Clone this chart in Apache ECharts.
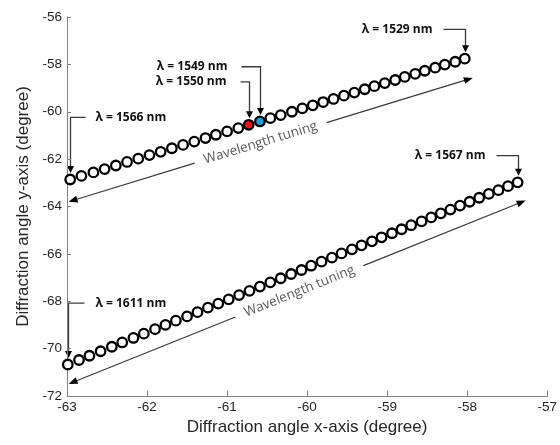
<!DOCTYPE html>
<html>
<head>
<meta charset="utf-8">
<script src="https://cdn.jsdelivr.net/npm/echarts@6/dist/echarts.min.js"></script>
<style>
  html, body { margin: 0; padding: 0; background: #fff; }
  #chart { width: 560px; height: 445px; }
</style>
</head>
<body>
<div id="chart"></div>
<script>
// axis ticks
var xTicks = [-63, -62, -61, -60, -59, -58, -57]
var yTicks = [-72, -70, -68, -66, -64, -62, -60, -58, -56]

// upper branch (1566 -> 1529 nm), left to right
var upperLambda = [1566, 1565, 1564, 1563, 1562, 1561, 1560, 1559, 1558, 1557,
  1556, 1555, 1554, 1553, 1552, 1551, 1550, 1549, 1548, 1547,
  1546, 1545, 1544, 1543, 1542, 1541, 1540, 1539, 1538, 1537,
  1536, 1535, 1534, 1533, 1532, 1531, 1530, 1529]
var upperX = [-62.96, -62.82, -62.67, -62.53, -62.39, -62.25, -62.11, -61.97, -61.83, -61.69,
  -61.55, -61.41, -61.27, -61.14, -61.00, -60.86, -60.73, -60.59, -60.46, -60.33,
  -60.19, -60.06, -59.93, -59.80, -59.67, -59.54, -59.41, -59.28, -59.16, -59.03,
  -58.90, -58.78, -58.65, -58.53, -58.40, -58.28, -58.15, -58.03]
var upperY = [-62.86, -62.71, -62.56, -62.42, -62.27, -62.12, -61.98, -61.83, -61.69, -61.54,
  -61.40, -61.26, -61.11, -60.97, -60.83, -60.69, -60.55, -60.41, -60.27, -60.14,
  -60.00, -59.86, -59.73, -59.59, -59.46, -59.32, -59.19, -59.05, -58.92, -58.79,
  -58.66, -58.53, -58.40, -58.27, -58.14, -58.01, -57.89, -57.76]

// lower branch (1611 -> 1567 nm), left to right
var lowerLambda = [1611, 1610, 1609, 1608, 1607, 1606, 1605, 1604, 1603, 1602,
  1601, 1600, 1599, 1598, 1597, 1596, 1595, 1594, 1593, 1592,
  1591, 1590, 1589, 1588, 1587, 1586, 1585, 1584, 1583, 1582,
  1581, 1580, 1579, 1578, 1577, 1576, 1575, 1574, 1573, 1572,
  1571, 1570, 1569, 1568, 1567]
var lowerX = [-62.99, -62.85, -62.72, -62.58, -62.44, -62.31, -62.17, -62.04, -61.90, -61.77,
  -61.64, -61.50, -61.37, -61.24, -61.11, -60.98, -60.85, -60.72, -60.59, -60.46,
  -60.33, -60.20, -60.07, -59.95, -59.82, -59.69, -59.57, -59.44, -59.32, -59.19,
  -59.07, -58.94, -58.82, -58.70, -58.57, -58.45, -58.33, -58.21, -58.09, -57.97,
  -57.85, -57.73, -57.61, -57.49, -57.37]
var lowerY = [-70.67, -70.48, -70.30, -70.11, -69.92, -69.74, -69.55, -69.37, -69.18, -69.00,
  -68.82, -68.64, -68.46, -68.27, -68.10, -67.92, -67.74, -67.56, -67.38, -67.20,
  -67.03, -66.85, -66.68, -66.50, -66.33, -66.16, -65.98, -65.81, -65.64, -65.47,
  -65.30, -65.13, -64.96, -64.79, -64.63, -64.46, -64.29, -64.13, -63.96, -63.80,
  -63.63, -63.47, -63.31, -63.14, -62.98]

// wavelengths shown filled
var markedLambda = [1550, 1549]
var markedColor = ['#e4141b', '#1f9ed6']

// callouts: which point, height of the elbow (y data), which side the text sits
var callouts = [
  { lambda: 1566, elbowY: -60.24, side: 'right', len: 15, gap: 10 },
  { lambda: 1549, elbowY: -58.10, side: 'left', len: 19, gap: 14 },
  { lambda: 1550, elbowY: -58.74, side: 'left', len: 9, gap: 14 },
  { lambda: 1529, elbowY: -56.52, side: 'left', len: 22, gap: 11 },
  { lambda: 1567, elbowY: -61.85, side: 'left', len: 22, gap: 11 },
  { lambda: 1611, elbowY: -68.08, side: 'right', len: 16, gap: 11 }
]

// "Wavelength tuning" double arrows (data coords)
var tuningArrows = [
  { from: [-62.98, -63.80], to: [-57.93, -58.57], at: 0.475 },
  { from: [-62.98, -71.49], to: [-57.27, -63.75], at: 0.505 }
]

function buildData (xs, ys, lambdas) {
  return xs.map(function (x, i) {
    var k = markedLambda.indexOf(lambdas[i])
    var item = { value: [x, ys[i]] }
    if (k >= 0) item.itemStyle = { color: markedColor[k] }
    return item
  })
}

var chart = echarts.init(document.getElementById('chart'))

var axisColor = '#808080'
var textColor = '#262626'

chart.setOption({
  animation: false,
  backgroundColor: '#fff',
  grid: { left: 67, right: 12, top: 17, bottom: 49 },
  xAxis: {
    type: 'value',
    min: xTicks[0],
    max: xTicks[xTicks.length - 1],
    interval: xTicks[1] - xTicks[0],
    name: 'Diffraction angle x-axis (degree)',
    nameLocation: 'middle',
    nameGap: 23,
    nameTextStyle: { fontFamily: 'Liberation Sans', fontSize: 17, color: textColor },
    axisLine: { show: true, lineStyle: { color: axisColor, width: 1 } },
    axisTick: { show: true, inside: true, length: 5, lineStyle: { color: axisColor } },
    axisLabel: { fontFamily: 'Liberation Sans', fontSize: 13.5, color: textColor, margin: 4 },
    splitLine: { show: false }
  },
  yAxis: {
    type: 'value',
    min: yTicks[0],
    max: yTicks[yTicks.length - 1],
    interval: yTicks[1] - yTicks[0],
    name: 'Diffraction angle y-axis (degree)',
    nameLocation: 'middle',
    nameGap: 22,
    nameTextStyle: { fontFamily: 'Liberation Sans', fontSize: 17, color: textColor },
    axisLine: { show: true, lineStyle: { color: axisColor, width: 1 } },
    axisTick: { show: true, inside: true, length: 4, lineStyle: { color: axisColor } },
    axisLabel: { fontFamily: 'Liberation Sans', fontSize: 13.5, color: textColor, margin: 5 },
    splitLine: { show: false }
  },
  series: [
    {
      name: 'upper',
      type: 'scatter',
      symbol: 'circle',
      symbolSize: 9.5,
      itemStyle: { color: '#fff', borderColor: '#000', borderWidth: 2.3, opacity: 1 },
      data: buildData(upperX, upperY, upperLambda)
    },
    {
      name: 'lower',
      type: 'scatter',
      symbol: 'circle',
      symbolSize: 9.5,
      itemStyle: { color: '#fff', borderColor: '#000', borderWidth: 2.3, opacity: 1 },
      data: buildData(lowerX, lowerY, lowerLambda)
    }
  ]
})

function px (p) {
  return chart.convertToPixel({ gridIndex: 0 }, p)
}

function findPoint (lambda) {
  var i = upperLambda.indexOf(lambda)
  if (i >= 0) return [upperX[i], upperY[i]]
  i = lowerLambda.indexOf(lambda)
  return [lowerX[i], lowerY[i]]
}

var graphics = []
var lineColor = '#3a3a3a'

callouts.forEach(function (c) {
  var t = px(findPoint(c.lambda))
  var ey = px([xTicks[0], c.elbowY])[1]
  var tx = Math.round(t[0]) + 0.5
  var tipY = t[1] - 6.5
  var hx = c.side === 'right' ? tx + c.len : tx - c.len
  graphics.push({
    type: 'polyline',
    shape: { points: [[hx, ey], [tx, ey], [tx, tipY - 6]] },
    style: { stroke: lineColor, lineWidth: 1.3, fill: null }
  })
  graphics.push({
    type: 'polygon',
    shape: { points: [[tx - 3.5, tipY - 7], [tx + 3.5, tipY - 7], [tx, tipY]] },
    style: { fill: '#000' }
  })
  var textX = c.side === 'right' ? hx + c.gap : hx - c.gap
  graphics.push({
    type: 'text',
    x: textX,
    y: ey,
    style: {
      text: 'λ = ' + c.lambda + ' nm',
      fill: '#111',
      font: 'bold 12px "Open Sans"',
      textAlign: c.side === 'right' ? 'left' : 'right',
      align: c.side === 'right' ? 'left' : 'right',
      textVerticalAlign: 'middle',
      verticalAlign: 'middle'
    }
  })
})

tuningArrows.forEach(function (a) {
  var p0 = px(a.from)
  var p1 = px(a.to)
  var dx = p1[0] - p0[0]
  var dy = p1[1] - p0[1]
  var len = Math.sqrt(dx * dx + dy * dy)
  var ux = dx / len
  var uy = dy / len
  var nx = -uy
  var ny = ux
  var cx = p0[0] + dx * a.at
  var cy = p0[1] + dy * a.at
  var half = 69
  graphics.push({
    type: 'polyline',
    shape: { points: [[p0[0] + ux * 6, p0[1] + uy * 6], [cx - ux * half, cy - uy * half]] },
    style: { stroke: lineColor, lineWidth: 1.2, fill: null }
  })
  graphics.push({
    type: 'polyline',
    shape: { points: [[cx + ux * half, cy + uy * half], [p1[0] - ux * 6, p1[1] - uy * 6]] },
    style: { stroke: lineColor, lineWidth: 1.2, fill: null }
  })
  var head = 9
  var w = 3.5
  graphics.push({
    type: 'polygon',
    shape: { points: [p0, [p0[0] + ux * head + nx * w, p0[1] + uy * head + ny * w], [p0[0] + ux * head - nx * w, p0[1] + uy * head - ny * w]] },
    style: { fill: '#000' }
  })
  graphics.push({
    type: 'polygon',
    shape: { points: [p1, [p1[0] - ux * head + nx * w, p1[1] - uy * head + ny * w], [p1[0] - ux * head - nx * w, p1[1] - uy * head - ny * w]] },
    style: { fill: '#000' }
  })
  graphics.push({
    type: 'text',
    x: cx,
    y: cy,
    rotation: -Math.atan2(dy, dx),
    style: {
      text: 'Wavelength tuning',
      fill: '#595959',
      font: '13.5px "Open Sans"',
      textAlign: 'center',
      align: 'center',
      textVerticalAlign: 'middle',
      verticalAlign: 'middle'
    }
  })
})

chart.setOption({ graphic: graphics })
</script>
</body>
</html>
